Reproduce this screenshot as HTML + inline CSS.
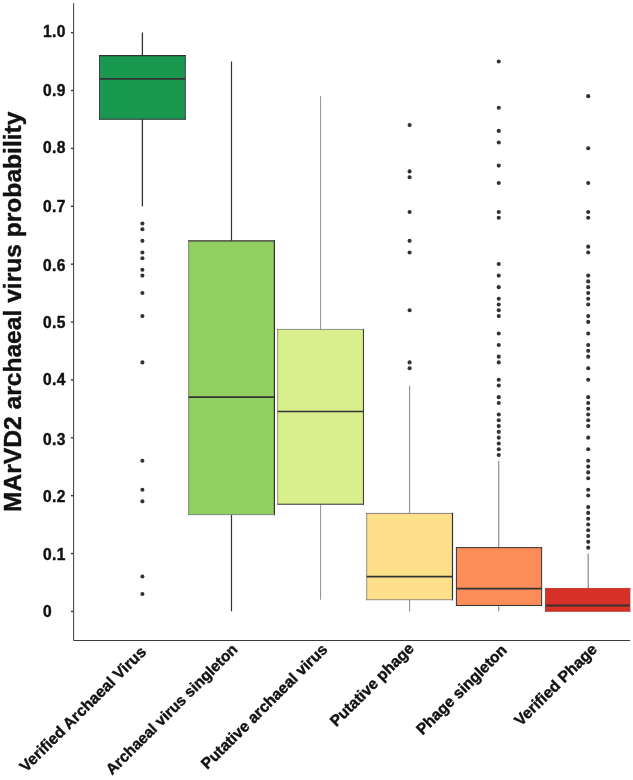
<!DOCTYPE html>
<html lang="en"><head><meta charset="utf-8"><title>MArVD2 archaeal virus probability</title>
<style>
html,body{margin:0;padding:0;background:#fff;}
body{width:633px;height:780px;overflow:hidden;}
svg{display:block;}
text{font-family:"Liberation Sans",Arial,Helvetica,sans-serif;font-weight:bold;fill:#111;stroke:#111;stroke-width:0.4px;stroke-linejoin:round;}
.tick{font-size:15.6px;letter-spacing:0.3px;}
.xl{font-size:15.55px;}
.yt{font-size:24.6px;}
</style></head><body>
<svg width="633" height="780" viewBox="0 0 633 780">
<rect x="0" y="0" width="633" height="780" fill="#ffffff"/>

<g stroke="#3c3c3c" stroke-width="1" fill="none">
<path d="M73.6 3.2 V640.5 H630.2"/>
<path d="M70.9 611.45 H73.6" stroke-width="1.4"/>
<path d="M70.9 553.57 H73.6" stroke-width="1.4"/>
<path d="M70.9 495.69 H73.6" stroke-width="1.4"/>
<path d="M70.9 437.81 H73.6" stroke-width="1.4"/>
<path d="M70.9 379.93 H73.6" stroke-width="1.4"/>
<path d="M70.9 322.05 H73.6" stroke-width="1.4"/>
<path d="M70.9 264.17 H73.6" stroke-width="1.4"/>
<path d="M70.9 206.29 H73.6" stroke-width="1.4"/>
<path d="M70.9 148.41 H73.6" stroke-width="1.4"/>
<path d="M70.9 90.53 H73.6" stroke-width="1.4"/>
<path d="M70.9 32.65 H73.6" stroke-width="1.4"/>
</g>
<g class="tick" style="filter:grayscale(1)">
<text x="43.1" y="617.10">0</text>
<text x="43.1" y="559.72">0.1</text>
<text x="43.1" y="501.64">0.2</text>
<text x="43.1" y="444.66">0.3</text>
<text x="43.1" y="385.48">0.4</text>
<text x="43.1" y="328.40">0.5</text>
<text x="43.1" y="270.62">0.6</text>
<text x="43.1" y="212.24">0.7</text>
<text x="43.1" y="153.46">0.8</text>
<text x="43.1" y="95.88">0.9</text>
<text x="43.1" y="36.90">1.0</text>
</g>
<g>
<path d="M142.40 32.50 V55.65 M142.40 119.32 V206.14" stroke="#333" stroke-width="1.3" fill="none"/>
<rect x="99.50" y="55.65" width="85.80" height="63.67" fill="#1a9850"/>
<path d="M99.50 55.65 H185.30" stroke="#333" stroke-width="1.1" stroke-linecap="square" fill="none"/>
<path d="M185.30 55.65 V119.32" stroke="#333" stroke-width="0.9" stroke-linecap="square" fill="none"/>
<path d="M99.50 119.32 H185.30" stroke="#333" stroke-width="1.1" stroke-linecap="square" fill="none"/>
<path d="M99.50 55.65 V119.32" stroke="#333" stroke-width="0.9" stroke-linecap="square" fill="none"/>
<path d="M99.50 78.80 H185.30" stroke="#333" stroke-width="1.7" fill="none"/>
<g fill="#333">
<circle cx="142.40" cy="223.50" r="2.05"/>
<circle cx="142.40" cy="229.29" r="2.05"/>
<circle cx="142.40" cy="240.87" r="2.05"/>
<circle cx="142.40" cy="252.44" r="2.05"/>
<circle cx="142.40" cy="258.23" r="2.05"/>
<circle cx="142.40" cy="269.81" r="2.05"/>
<circle cx="142.40" cy="275.60" r="2.05"/>
<circle cx="142.40" cy="292.96" r="2.05"/>
<circle cx="142.40" cy="316.11" r="2.05"/>
<circle cx="142.40" cy="362.42" r="2.05"/>
<circle cx="142.40" cy="460.81" r="2.05"/>
<circle cx="142.40" cy="489.75" r="2.05"/>
<circle cx="142.40" cy="501.33" r="2.05"/>
<circle cx="142.40" cy="576.57" r="2.05"/>
<circle cx="142.40" cy="593.94" r="2.05"/>
</g>
</g>
<g>
<path d="M231.50 61.44 V240.87 M231.50 514.64 V611.30" stroke="#333" stroke-width="1.2" fill="none"/>
<rect x="188.60" y="240.87" width="85.80" height="273.77" fill="#91cf60"/>
<path d="M188.60 240.87 H274.40" stroke="#333" stroke-width="1.1" stroke-linecap="square" fill="none"/>
<path d="M274.40 240.87 V514.64" stroke="#333" stroke-width="1.2" stroke-linecap="square" fill="none"/>
<path d="M188.60 514.64 H274.40" stroke="#666" stroke-width="0.7" stroke-linecap="square" fill="none"/>
<path d="M188.60 240.87 V514.64" stroke="#666" stroke-width="0.7" stroke-linecap="square" fill="none"/>
<path d="M188.60 397.14 H274.40" stroke="#333" stroke-width="1.7" fill="none"/>
</g>
<g>
<path d="M320.55 96.17 V329.42 M320.55 504.22 V599.72" stroke="#777" stroke-width="0.8" fill="none"/>
<rect x="277.65" y="329.42" width="85.80" height="174.80" fill="#d9ef8b"/>
<path d="M277.65 329.42 H363.45" stroke="#666" stroke-width="0.7" stroke-linecap="square" fill="none"/>
<path d="M363.45 329.42 V504.22" stroke="#333" stroke-width="1.0" stroke-linecap="square" fill="none"/>
<path d="M277.65 504.22 H363.45" stroke="#333" stroke-width="1.0" stroke-linecap="square" fill="none"/>
<path d="M277.65 329.42 V504.22" stroke="#666" stroke-width="0.7" stroke-linecap="square" fill="none"/>
<path d="M277.65 411.61 H363.45" stroke="#333" stroke-width="1.5" fill="none"/>
</g>
<g>
<path d="M409.60 385.57 V512.90 M409.60 599.72 V611.30" stroke="#777" stroke-width="0.9" fill="none"/>
<rect x="366.70" y="513.40" width="85.80" height="86.32" fill="#fee08b"/>
<path d="M366.70 513.40 H452.50" stroke="#666" stroke-width="0.8" stroke-linecap="square" fill="none"/>
<path d="M452.50 513.40 V599.72" stroke="#333" stroke-width="1.2" stroke-linecap="square" fill="none"/>
<path d="M366.70 599.72 H452.50" stroke="#666" stroke-width="0.7" stroke-linecap="square" fill="none"/>
<path d="M366.70 513.40 V599.72" stroke="#666" stroke-width="0.7" stroke-linecap="square" fill="none"/>
<path d="M366.70 576.57 H452.50" stroke="#333" stroke-width="1.7" fill="none"/>
<g fill="#333">
<circle cx="409.60" cy="125.11" r="2.05"/>
<circle cx="409.60" cy="171.41" r="2.05"/>
<circle cx="409.60" cy="177.20" r="2.05"/>
<circle cx="409.60" cy="211.93" r="2.05"/>
<circle cx="409.60" cy="240.87" r="2.05"/>
<circle cx="409.60" cy="252.44" r="2.05"/>
<circle cx="409.60" cy="310.32" r="2.05"/>
<circle cx="409.60" cy="362.42" r="2.05"/>
<circle cx="409.60" cy="368.20" r="2.05"/>
</g>
</g>
<g>
<path d="M498.75 460.81 V547.63 M498.75 605.51 V611.30" stroke="#777" stroke-width="1.0" fill="none"/>
<rect x="456.40" y="547.63" width="85.25" height="57.88" fill="#fc8d59"/>
<path d="M456.40 547.63 H541.65" stroke="#333" stroke-width="1.0" stroke-linecap="square" fill="none"/>
<path d="M541.65 547.63 V605.51" stroke="#333" stroke-width="1.0" stroke-linecap="square" fill="none"/>
<path d="M456.40 605.51 H541.65" stroke="#333" stroke-width="1.0" stroke-linecap="square" fill="none"/>
<path d="M456.40 547.63 V605.51" stroke="#333" stroke-width="1.0" stroke-linecap="square" fill="none"/>
<path d="M456.40 588.65 H541.65" stroke="#333" stroke-width="1.7" fill="none"/>
<g fill="#333">
<circle cx="498.75" cy="61.44" r="2.05"/>
<circle cx="498.75" cy="107.74" r="2.05"/>
<circle cx="498.75" cy="130.90" r="2.05"/>
<circle cx="498.75" cy="142.47" r="2.05"/>
<circle cx="498.75" cy="165.62" r="2.05"/>
<circle cx="498.75" cy="182.99" r="2.05"/>
<circle cx="498.75" cy="211.93" r="2.05"/>
<circle cx="498.75" cy="217.72" r="2.05"/>
<circle cx="498.75" cy="264.02" r="2.05"/>
<circle cx="498.75" cy="275.60" r="2.05"/>
<circle cx="498.75" cy="287.17" r="2.05"/>
<circle cx="498.75" cy="298.75" r="2.05"/>
<circle cx="498.75" cy="304.54" r="2.05"/>
<circle cx="498.75" cy="310.32" r="2.05"/>
<circle cx="498.75" cy="316.11" r="2.05"/>
<circle cx="498.75" cy="333.48" r="2.05"/>
<circle cx="498.75" cy="345.05" r="2.05"/>
<circle cx="498.75" cy="356.63" r="2.05"/>
<circle cx="498.75" cy="362.42" r="2.05"/>
<circle cx="498.75" cy="379.78" r="2.05"/>
<circle cx="498.75" cy="385.57" r="2.05"/>
<circle cx="498.75" cy="397.14" r="2.05"/>
<circle cx="498.75" cy="402.93" r="2.05"/>
<circle cx="498.75" cy="414.51" r="2.05"/>
<circle cx="498.75" cy="420.30" r="2.05"/>
<circle cx="498.75" cy="426.08" r="2.05"/>
<circle cx="498.75" cy="431.87" r="2.05"/>
<circle cx="498.75" cy="437.66" r="2.05"/>
<circle cx="498.75" cy="443.45" r="2.05"/>
<circle cx="498.75" cy="449.24" r="2.05"/>
<circle cx="498.75" cy="455.02" r="2.05"/>
</g>
</g>
<g>
<path d="M588.20 553.42 V588.15 M588.20 611.30 V611.30" stroke="#888" stroke-width="1.2" fill="none"/>
<rect x="545.50" y="588.45" width="84.40" height="22.85" fill="#d73027"/>
<path d="M545.50 588.45 H629.90" stroke="#b32a22" stroke-width="0.8" stroke-linecap="square" fill="none"/>
<path d="M629.90 588.45 V611.30" stroke="#b32a22" stroke-width="0.8" stroke-linecap="square" fill="none"/>
<path d="M545.50 611.30 H629.90" stroke="#b32a22" stroke-width="0.8" stroke-linecap="square" fill="none"/>
<path d="M545.50 588.45 V611.30" stroke="#b32a22" stroke-width="0.8" stroke-linecap="square" fill="none"/>
<path d="M545.50 605.51 H629.90" stroke="#333" stroke-width="1.9" fill="none"/>
<g fill="#333">
<circle cx="588.20" cy="96.17" r="2.05"/>
<circle cx="588.20" cy="148.26" r="2.05"/>
<circle cx="588.20" cy="182.99" r="2.05"/>
<circle cx="588.20" cy="211.93" r="2.05"/>
<circle cx="588.20" cy="217.72" r="2.05"/>
<circle cx="588.20" cy="246.66" r="2.05"/>
<circle cx="588.20" cy="252.44" r="2.05"/>
<circle cx="588.20" cy="275.60" r="2.05"/>
<circle cx="588.20" cy="281.38" r="2.05"/>
<circle cx="588.20" cy="287.17" r="2.05"/>
<circle cx="588.20" cy="292.96" r="2.05"/>
<circle cx="588.20" cy="298.75" r="2.05"/>
<circle cx="588.20" cy="304.54" r="2.05"/>
<circle cx="588.20" cy="316.11" r="2.05"/>
<circle cx="588.20" cy="321.90" r="2.05"/>
<circle cx="588.20" cy="333.48" r="2.05"/>
<circle cx="588.20" cy="345.05" r="2.05"/>
<circle cx="588.20" cy="350.84" r="2.05"/>
<circle cx="588.20" cy="356.63" r="2.05"/>
<circle cx="588.20" cy="368.20" r="2.05"/>
<circle cx="588.20" cy="379.78" r="2.05"/>
<circle cx="588.20" cy="397.14" r="2.05"/>
<circle cx="588.20" cy="402.93" r="2.05"/>
<circle cx="588.20" cy="408.72" r="2.05"/>
<circle cx="588.20" cy="414.51" r="2.05"/>
<circle cx="588.20" cy="420.30" r="2.05"/>
<circle cx="588.20" cy="426.08" r="2.05"/>
<circle cx="588.20" cy="437.66" r="2.05"/>
<circle cx="588.20" cy="449.24" r="2.05"/>
<circle cx="588.20" cy="460.81" r="2.05"/>
<circle cx="588.20" cy="466.60" r="2.05"/>
<circle cx="588.20" cy="472.39" r="2.05"/>
<circle cx="588.20" cy="478.18" r="2.05"/>
<circle cx="588.20" cy="489.75" r="2.05"/>
<circle cx="588.20" cy="495.54" r="2.05"/>
<circle cx="588.20" cy="507.12" r="2.05"/>
<circle cx="588.20" cy="512.90" r="2.05"/>
<circle cx="588.20" cy="518.69" r="2.05"/>
<circle cx="588.20" cy="524.48" r="2.05"/>
<circle cx="588.20" cy="530.27" r="2.05"/>
<circle cx="588.20" cy="536.06" r="2.05"/>
<circle cx="588.20" cy="541.84" r="2.05"/>
<circle cx="588.20" cy="547.63" r="2.05"/>
</g>
</g>
<g class="xl" text-anchor="end" style="filter:grayscale(1)">
<text font-size="15.72" transform="translate(147.10 652.90) rotate(-44.7)">Verified Archaeal Virus</text>
<text font-size="15.32" transform="translate(238.50 650.30) rotate(-44.7)">Archaeal virus singleton</text>
<text font-size="15.63" transform="translate(328.35 650.30) rotate(-44.7)">Putative archaeal virus</text>
<text font-size="15.55" transform="translate(414.80 649.50) rotate(-44.7)">Putative phage</text>
<text font-size="15.55" transform="translate(507.85 651.10) rotate(-44.7)">Phage singleton</text>
<text font-size="15.77" transform="translate(598.00 650.30) rotate(-44.7)">Verified Phage</text>
</g>
<g style="filter:grayscale(1)"><text class="yt" transform="translate(20.8 512.0) rotate(-90)">MArVD2 archaeal virus probability</text></g>
</svg></body></html>
